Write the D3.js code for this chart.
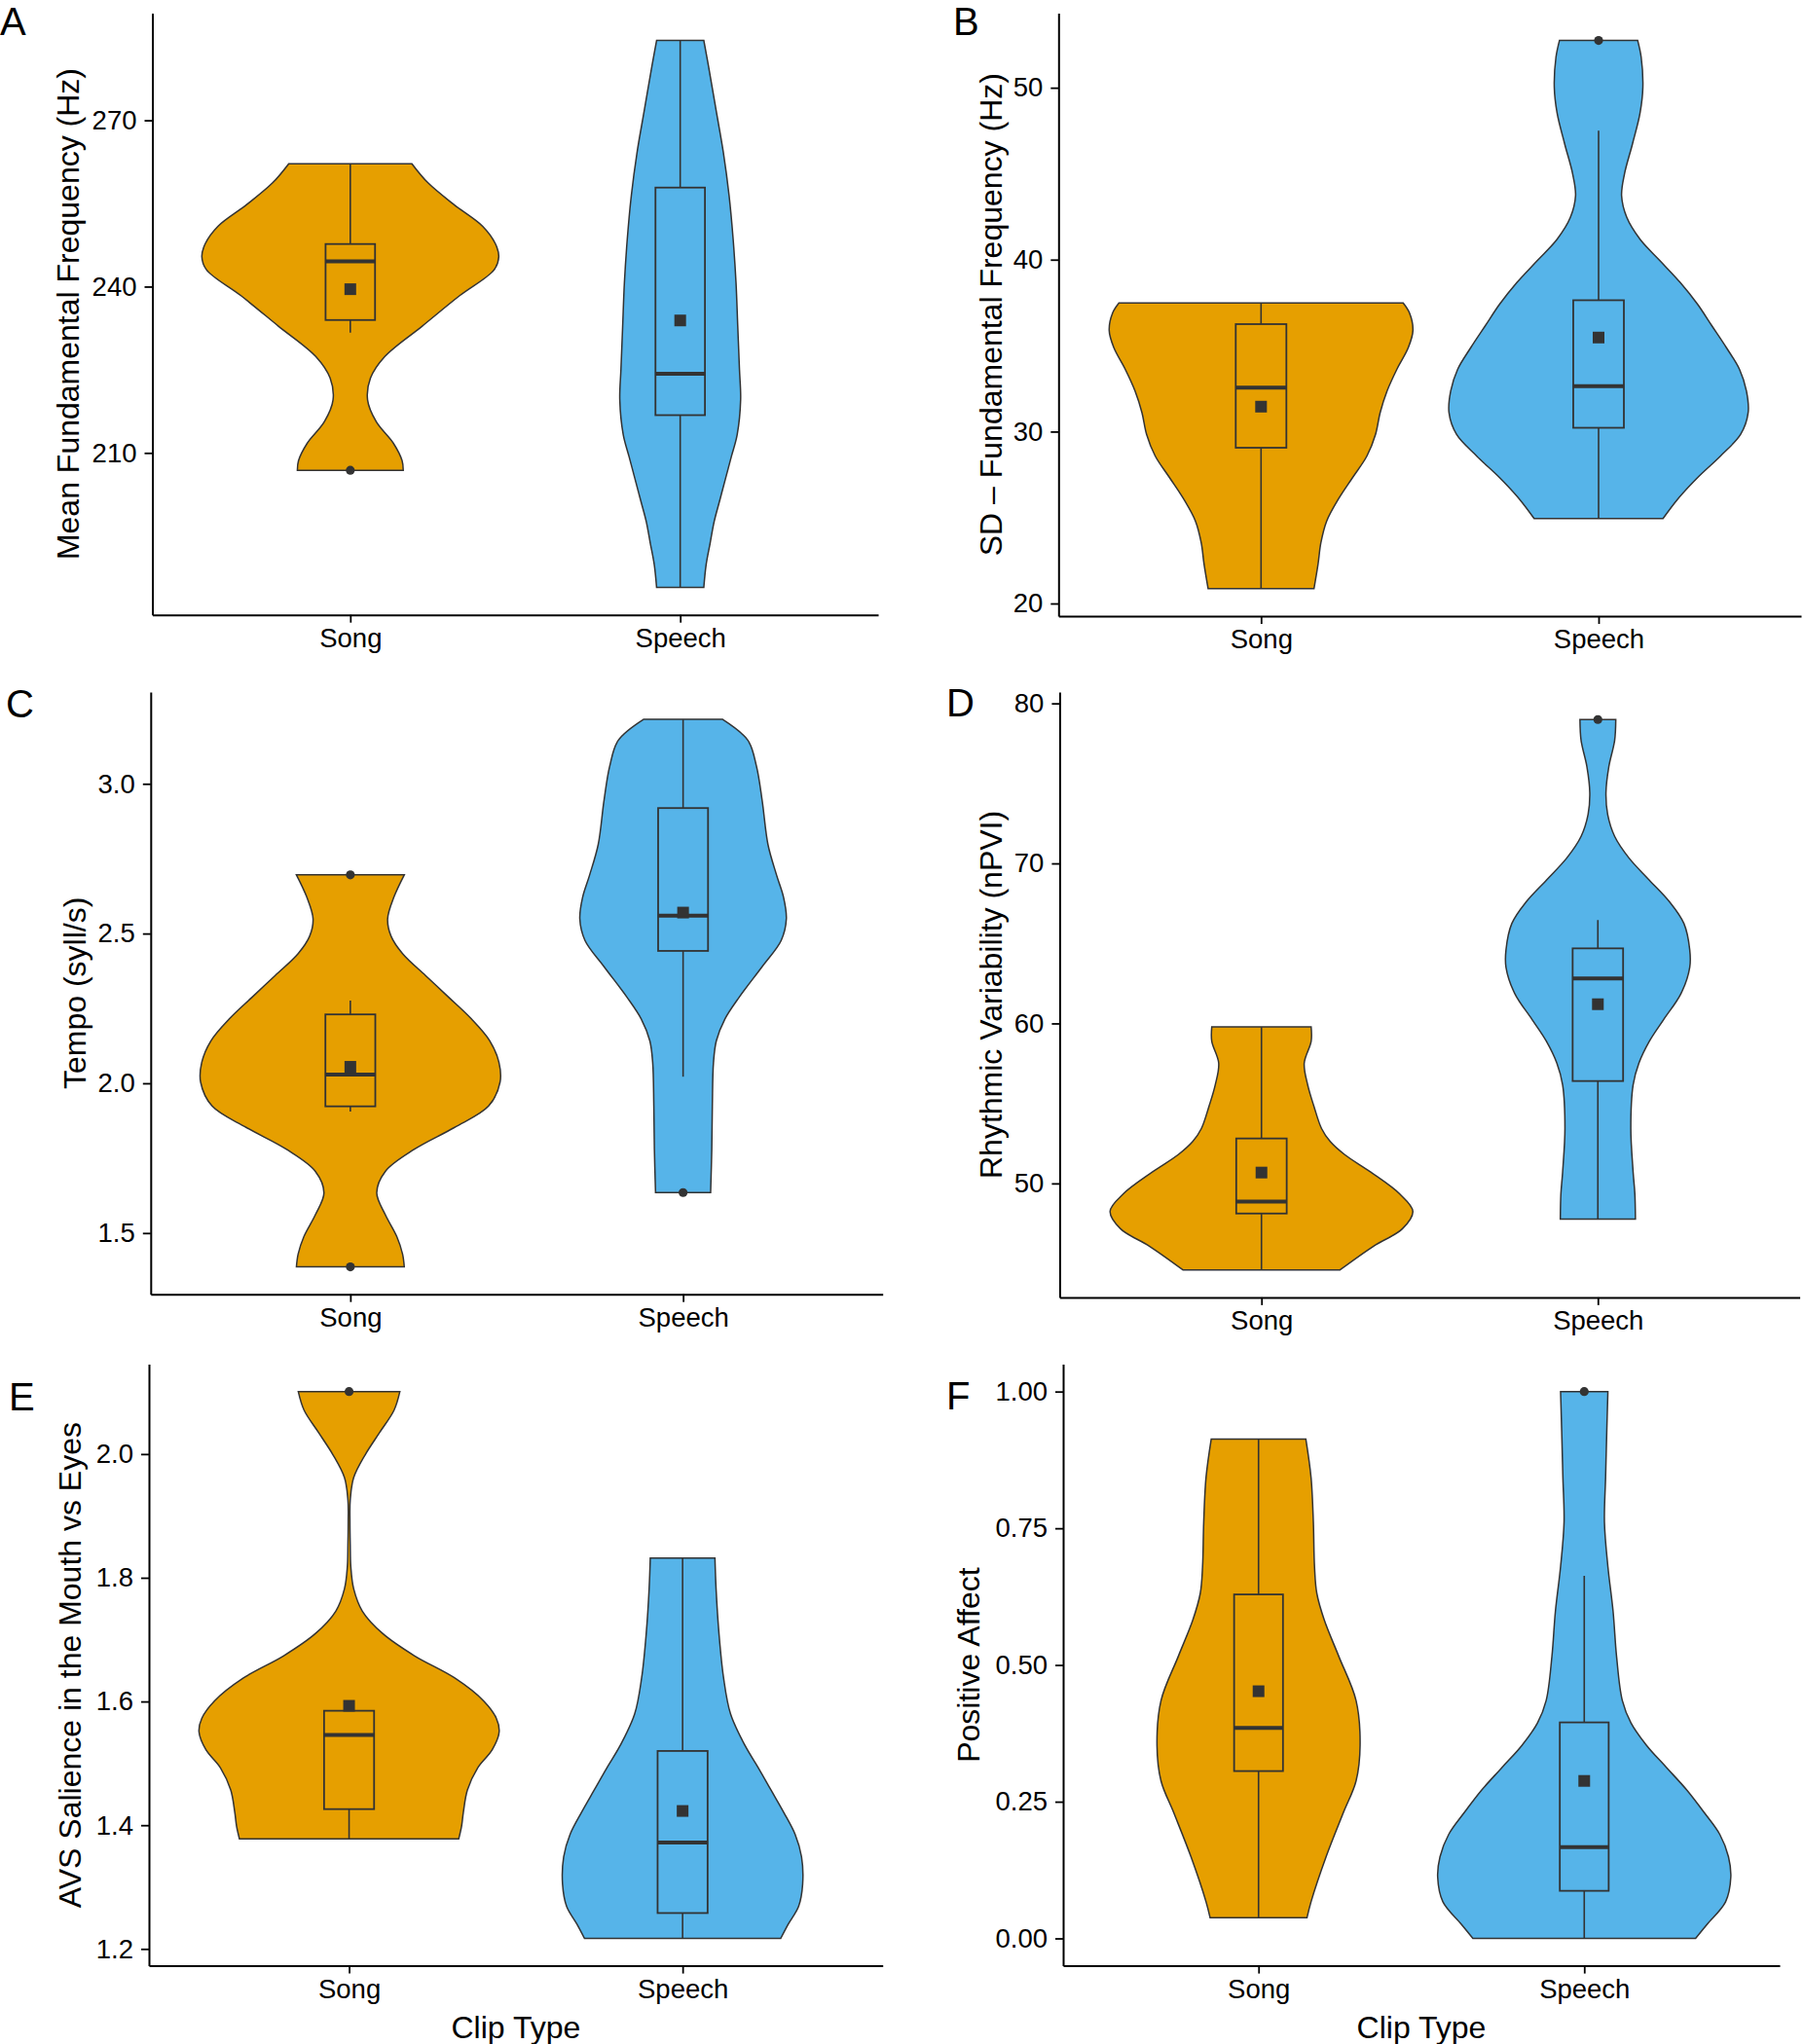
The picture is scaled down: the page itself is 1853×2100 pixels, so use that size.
<!DOCTYPE html>
<html>
<head>
<meta charset="utf-8">
<script src="https://cdn.jsdelivr.net/npm/d3@7"></script>
<style>
  body { margin: 0; background: #fff; }
  text { font-family: "Liberation Sans", Arial, sans-serif; }
</style>
</head>
<body>
<svg id="chart" width="1853" height="2100"></svg>
<script>
// ---- data ----
const categories = ["Song", "Speech"];
const panelLetters = ["A", "B", "C", "D", "E", "F"];
const yTitles = [
  "Mean Fundamental Frequency (Hz)",
  "SD \u2013 Fundamental Frequency (Hz)",
  "Tempo (syll/s)",
  "Rhythmic Variability (nPVI)",
  "AVS Salience in the Mouth vs Eyes",
  "Positive Affect"
];
const xTitle = "Clip Type";
const yTicks = [
  [210, 240, 270],
  [20, 30, 40, 50],
  [1.5, 2.0, 2.5, 3.0],
  [50, 60, 70, 80],
  [1.2, 1.4, 1.6, 1.8, 2.0],
  [0, 0.25, 0.5, 0.75, 1.0]
];
const tickFormats = ["d", "d", ".1f", "d", ".1f", ".2f"];

// violin outlines: [value, half width (relative density)]
const violinA_song = [[262.17,107],[258.72,135],[254.80,180],[250.89,230],[247.75,252],[245.40,258],[243.05,250],[238.36,190],[232.87,125],[227.39,60],[223.47,35],[219.56,30],[215.64,45],[211.72,75],[208.59,90],[206.87,92]];
const violinA_speech = [[284.41,41],[279.87,49],[272.04,62],[264.20,75],[256.37,85],[248.54,92],[240.70,97],[232.87,100],[225.04,103],[219.56,105],[213.29,99],[209.37,89],[205.46,79],[201.54,69],[197.62,59],[193.71,52],[189.79,45],[185.72,41]];
const violinB_song = [[37.48,247],[36.90,258],[35.89,264],[34.89,256],[33.62,236],[32.36,219],[31.10,207],[29.84,199],[28.58,184],[27.32,159],[26.05,134],[24.79,114],[23.53,104],[22.27,99],[20.86,92]];
const violinB_speech = [[52.75,68],[51.79,74],[50.03,77],[48.51,72],[46.74,59],[44.98,45],[43.72,40],[42.46,49],[41.19,72],[39.93,107],[38.67,142],[37.41,172],[36.15,197],[34.89,222],[33.62,245],[32.36,257],[31.10,260],[29.84,247],[28.58,212],[27.32,172],[26.05,137],[24.94,112]];
const violinC_song = [[2.696,94],[2.622,76],[2.549,65],[2.491,71],[2.433,91],[2.360,131],[2.288,171],[2.215,211],[2.142,243],[2.070,259],[2.004,261],[1.924,241],[1.852,181],[1.779,111],[1.706,61],[1.634,46],[1.561,61],[1.488,81],[1.430,91],[1.387,94]];
const violinC_speech = [[3.215,69],[3.145,113],[3.058,128],[2.942,138],[2.797,148],[2.695,163],[2.622,175],[2.549,180],[2.477,171],[2.390,138],[2.288,98],[2.215,73],[2.142,58],[2.070,53],[1.924,51],[1.779,50],[1.635,48]];
const violinD_song = [[59.78,86],[58.88,86],[57.52,74],[56.16,80],[54.80,91],[53.43,104],[52.62,119],[51.80,144],[50.71,189],[49.35,239],[48.26,262],[47.17,244],[46.08,194],[44.60,136]];
const violinD_speech = [[78.99,31],[77.68,29],[76.05,19],[74.41,14],[73.05,17],[71.69,29],[70.33,54],[68.96,89],[67.60,124],[66.24,149],[64.60,159],[63.51,159],[61.88,144],[60.25,114],[58.88,89],[57.52,71],[56.16,61],[53.43,57],[50.71,61],[49.35,64],[47.77,65]];
const violinE_song = [[2.101,88],[2.071,78],[2.035,53],[1.999,28],[1.962,8],[1.926,2],[1.890,1.5],[1.854,2],[1.818,3],[1.782,8],[1.746,23],[1.710,58],[1.674,113],[1.638,183],[1.601,233],[1.573,255],[1.551,260],[1.522,248],[1.493,223],[1.457,205],[1.421,198],[1.399,195],[1.378,190]];
const violinE_speech = [[1.832,56],[1.782,58],[1.710,63],[1.638,71],[1.580,83],[1.529,108],[1.493,131],[1.457,153],[1.421,175],[1.385,195],[1.349,206],[1.305,208],[1.269,201],[1.240,183],[1.217,170]];
const violinF_song = [[0.913,82],[0.843,91],[0.761,95],[0.680,97],[0.631,101],[0.582,114],[0.516,139],[0.435,169],[0.353,176],[0.288,169],[0.230,147],[0.149,117],[0.067,91],[0.038,84]];
const violinF_speech = [[1.0,41],[0.925,39],[0.843,37],[0.761,35],[0.680,41],[0.598,50],[0.516,56],[0.435,66],[0.394,81],[0.353,108],[0.312,143],[0.271,178],[0.230,208],[0.190,235],[0.149,250],[0.112,254],[0.067,245],[0.026,213],[0.0,193]];

// box stats per group: [lower whisker, q1, median, q3, upper whisker]
const boxA = [[231.70, 233.97, 244.54, 247.68, 262.17], [185.72, 216.81, 224.26, 257.86, 284.41]];
const boxB = [[20.86, 29.06, 32.56, 36.25, 37.48], [24.94, 30.22, 32.64, 37.64, 47.50]];
const boxC = [[1.906, 1.923, 2.029, 2.230, 2.276], [2.022, 2.442, 2.560, 2.919, 3.215]];
const boxD = [[44.60, 48.12, 48.86, 52.81, 59.78], [47.77, 56.40, 62.81, 64.69, 66.46]];
const boxE = [[1.378, 1.426, 1.546, 1.585, 1.585], [1.217, 1.258, 1.372, 1.520, 1.832]];
const boxF = [[0.038, 0.306, 0.385, 0.629, 0.913], [0.0, 0.087, 0.167, 0.395, 0.663]];

const meanA = [239.53, 233.89];
const meanB = [31.45, 35.47];
const meanC = [2.055, 2.570];
const meanD = [50.68, 61.20];
const meanE = [1.593, 1.423];
const meanF = [0.452, 0.288];

const outlierA = [[206.87], []];
const outlierB = [[], [52.75]];
const outlierC = [[2.696, 1.387], [1.635]];
const outlierD = [[], [78.99]];
const outlierE = [[2.101], []];
const outlierF = [[], [1.0]];

const fills = ["#E69F00", "#56B4E9"];

// ---- layout ----
const layout = [
  {l: 156.5, r: 902, t: 13.4, b: 631.7, tx: 70, lx: 0, ly: 36},
  {l: 1087.3, r: 1850, t: 13.4, b: 633, tx: 1017.6, lx: 979, ly: 36},
  {l: 154.8, r: 906.7, t: 711, b: 1329.7, tx: 76.8, lx: 6, ly: 737},
  {l: 1088.4, r: 1848.6, t: 711, b: 1332.9, tx: 1018, lx: 972, ly: 736},
  {l: 153, r: 906.7, t: 1401.6, b: 2019.6, tx: 72, lx: 9, ly: 1449},
  {l: 1092, r: 1828, t: 1401.6, b: 2019.6, tx: 995, lx: 972, ly: 1448}
];

const panels = [
  {violins: [violinA_song, violinA_speech], box: boxA, mean: meanA, out: outlierA},
  {violins: [violinB_song, violinB_speech], box: boxB, mean: meanB, out: outlierB},
  {violins: [violinC_song, violinC_speech], box: boxC, mean: meanC, out: outlierC},
  {violins: [violinD_song, violinD_speech], box: boxD, mean: meanD, out: outlierD},
  {violins: [violinE_song, violinE_speech], box: boxE, mean: meanE, out: outlierE},
  {violins: [violinF_song, violinF_speech], box: boxF, mean: meanF, out: outlierF}
];

const svg = d3.select("#chart");
const ink = "#333333";

panels.forEach(function (p, i) {
  const L = layout[i];
  const g = svg.append("g");

  const x = d3.scalePoint().domain(categories).range([L.l, L.r]).padding(0.6);
  const step = x.step();

  const allVals = p.violins.flat().map(d => d[0]).concat(p.out.flat());
  const ext = d3.extent(allVals), pad = (ext[1] - ext[0]) * 0.05;
  const y = d3.scaleLinear().domain([ext[0] - pad, ext[1] + pad]).range([L.b, L.t]);

  const maxW = d3.max(p.violins.flat(), d => d[1]);
  const w = d3.scaleLinear().domain([0, maxW]).range([0, 0.45 * step]);

  categories.forEach(function (cat, j) {
    const cx = x(cat);
    const area = d3.area()
      .curve(d3.curveCatmullRom.alpha(0.5))
      .y(d => y(d[0]))
      .x0(d => cx - w(d[1]))
      .x1(d => cx + w(d[1]));

    g.append("path")
      .attr("d", area(p.violins[j]))
      .attr("fill", fills[j])
      .attr("stroke", ink)
      .attr("stroke-width", 1.5);

    const s = p.box[j], bw = 0.15 * step;
    // whiskers
    g.append("line")
      .attr("x1", cx).attr("x2", cx)
      .attr("y1", y(s[3])).attr("y2", y(s[4]))
      .attr("stroke", ink).attr("stroke-width", 1.6);
    g.append("line")
      .attr("x1", cx).attr("x2", cx)
      .attr("y1", y(s[1])).attr("y2", y(s[0]))
      .attr("stroke", ink).attr("stroke-width", 1.6);
    // box
    g.append("rect")
      .attr("x", cx - bw / 2).attr("width", bw)
      .attr("y", y(s[3])).attr("height", y(s[1]) - y(s[3]))
      .attr("fill", fills[j])
      .attr("stroke", ink).attr("stroke-width", 1.8);
    // median
    g.append("line")
      .attr("x1", cx - bw / 2).attr("x2", cx + bw / 2)
      .attr("y1", y(s[2])).attr("y2", y(s[2]))
      .attr("stroke", ink).attr("stroke-width", 4);
    // outliers
    g.selectAll(null).data(p.out[j]).enter().append("circle")
      .attr("cx", cx).attr("cy", d => y(d))
      .attr("r", 4.6).attr("fill", ink);
    // mean
    g.append("rect")
      .attr("x", cx - 6).attr("y", y(p.mean[j]) - 6)
      .attr("width", 12).attr("height", 12)
      .attr("fill", ink);
  });

  // axes
  const yAxis = g.append("g")
    .attr("transform", "translate(" + L.l + ",0)")
    .call(d3.axisLeft(y).tickValues(yTicks[i]).tickFormat(d3.format(tickFormats[i]))
      .tickSize(8).tickSizeOuter(0).tickPadding(8));
  const xAxis = g.append("g")
    .attr("transform", "translate(0," + L.b + ")")
    .call(d3.axisBottom(x).tickSize(8).tickSizeOuter(0).tickPadding(5.5));

  [yAxis, xAxis].forEach(function (a) {
    a.select(".domain").attr("stroke", "#000").attr("stroke-width", 2);
    a.selectAll(".tick line").attr("stroke", "#000").attr("stroke-width", 1.8);
    a.selectAll(".tick text")
      .attr("fill", "#000")
      .style("font-size", "27.5px")
      .style("font-family", "'Liberation Sans', Arial, sans-serif");
  });

  // titles
  g.append("text")
    .attr("transform", "translate(" + L.tx + "," + (L.t + L.b) / 2 + ") rotate(-90)")
    .attr("text-anchor", "middle")
    .attr("dy", "0.35em")
    .style("font-size", "32px")
    .text(yTitles[i]);

  if (i >= 4) {
    g.append("text")
      .attr("x", (L.l + L.r) / 2)
      .attr("y", 2094)
      .attr("text-anchor", "middle")
      .style("font-size", "32px")
      .text(xTitle);
  }

  g.append("text")
    .attr("x", L.lx).attr("y", L.ly)
    .style("font-size", "40px")
    .text(panelLetters[i]);
});
</script>
</body>
</html>
